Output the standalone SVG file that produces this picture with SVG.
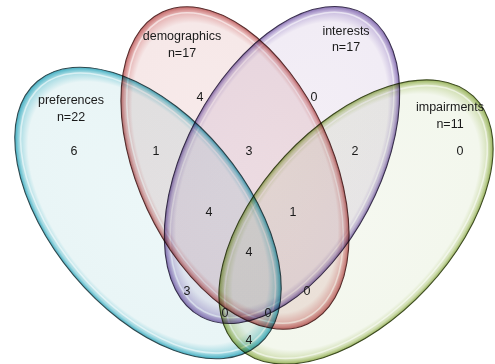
<svg xmlns="http://www.w3.org/2000/svg" width="495" height="364" viewBox="0 0 495 364">
<style>
text{font-family:"Liberation Sans",Arial,sans-serif;font-size:12.5px;fill:#1a1a1a;text-anchor:middle}
.set{mix-blend-mode:multiply}
.out{fill:none;stroke-width:1.1}
.hl{fill:none;stroke:#fff;stroke-width:1.6;stroke-opacity:0.55}
</style>
<defs>
<radialGradient id="gB"><stop offset="0" stop-color="#ecf7f8"/><stop offset="0.9" stop-color="#e9f5f6"/><stop offset="0.965" stop-color="#a6dbe3"/><stop offset="1" stop-color="#43afc3"/></radialGradient>
<radialGradient id="gR"><stop offset="0" stop-color="#f8ebeb"/><stop offset="0.9" stop-color="#f6e8e8"/><stop offset="0.965" stop-color="#e6b4b4"/><stop offset="1" stop-color="#c46a6a"/></radialGradient>
<radialGradient id="gP"><stop offset="0" stop-color="#f4eff6"/><stop offset="0.9" stop-color="#f1ecf5"/><stop offset="0.965" stop-color="#cbbfe0"/><stop offset="1" stop-color="#8a72b4"/></radialGradient>
<radialGradient id="gG"><stop offset="0" stop-color="#f5f8f0"/><stop offset="0.9" stop-color="#f3f7ed"/><stop offset="0.965" stop-color="#d3e0b6"/><stop offset="1" stop-color="#9ab45e"/></radialGradient>
</defs>
<g id="preferences" class="set">
<ellipse cx="148" cy="213" rx="172" ry="97" transform="rotate(50 148 213)" fill="url(#gB)"/>
<ellipse cx="148" cy="213" rx="166" ry="91" transform="rotate(50 148 213)" class="hl"/>
<ellipse cx="148" cy="213" rx="172" ry="97" transform="rotate(50 148 213)" class="out" stroke="#2f4a50"/>
</g>
<g id="demographics" class="set">
<ellipse cx="235" cy="168" rx="172" ry="97" transform="rotate(65 235 168)" fill="url(#gR)"/>
<ellipse cx="235" cy="168" rx="166" ry="91" transform="rotate(65 235 168)" class="hl"/>
<ellipse cx="235" cy="168" rx="172" ry="97" transform="rotate(65 235 168)" class="out" stroke="#5a2e2e"/>
</g>
<g id="interests" class="set">
<ellipse cx="282" cy="165" rx="172" ry="97" transform="rotate(-62 282 165)" fill="url(#gP)"/>
<ellipse cx="282" cy="165" rx="166" ry="91" transform="rotate(-62 282 165)" class="hl"/>
<ellipse cx="282" cy="165" rx="172" ry="97" transform="rotate(-62 282 165)" class="out" stroke="#3b3150"/>
</g>
<g id="impairments" class="set">
<ellipse cx="356" cy="222" rx="172" ry="97" transform="rotate(-47 356 222)" fill="url(#gG)"/>
<ellipse cx="356" cy="222" rx="166" ry="91" transform="rotate(-47 356 222)" class="hl"/>
<ellipse cx="356" cy="222" rx="172" ry="97" transform="rotate(-47 356 222)" class="out" stroke="#3e4c22"/>
</g>
<g id="labels">
<text x="71" y="104">preferences</text><text x="71" y="121">n=22</text>
<text x="182" y="40">demographics</text><text x="182" y="57">n=17</text>
<text x="346" y="35">interests</text><text x="346" y="51">n=17</text>
<text x="450" y="111">impairments</text><text x="450" y="128">n=11</text>
<text x="74" y="155">6</text>
<text x="156" y="155">1</text>
<text x="200" y="101">4</text>
<text x="249" y="155">3</text>
<text x="314" y="101">0</text>
<text x="355" y="155">2</text>
<text x="460" y="155">0</text>
<text x="209" y="216">4</text>
<text x="293" y="216">1</text>
<text x="249" y="256">4</text>
<text x="187" y="295">3</text>
<text x="307" y="295">0</text>
<text x="225" y="317">0</text>
<text x="268" y="317">0</text>
<text x="249" y="344">4</text>
</g>
</svg>
